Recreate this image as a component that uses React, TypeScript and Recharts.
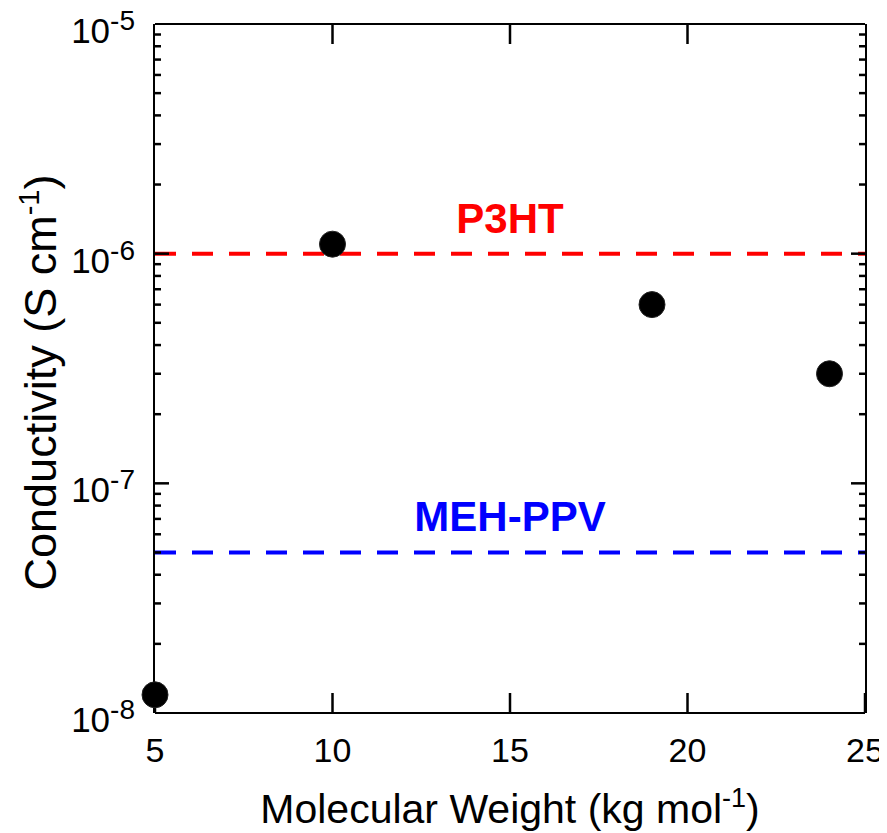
import { ScatterChart, Scatter, XAxis, YAxis, ReferenceLine } from 'recharts';

const molecularWeight = [5, 10, 19, 24];
const conductivity = [1.2e-8, 1.1e-6, 6.0e-7, 3.0e-7];

const xTicks = [5, 10, 15, 20, 25];
const xInnerTicks = [10, 15, 20];
const yTicks = [1e-8, 1e-7, 1e-6, 1e-5];
const yTickExponents = ['-8', '-7', '-6', '-5'];
const yInnerMajorTicks = [1e-7, 1e-6];
const yMinorTicks = [
  2e-8, 3e-8, 4e-8, 5e-8, 6e-8, 7e-8, 8e-8, 9e-8,
  2e-7, 3e-7, 4e-7, 5e-7, 6e-7, 7e-7, 8e-7, 9e-7,
  2e-6, 3e-6, 4e-6, 5e-6, 6e-6, 7e-6, 8e-6, 9e-6,
];

const referenceNames = ['P3HT', 'MEH-PPV'];
const referenceValues = [1e-6, 5e-8];
const referenceColors = ['#ff0000', '#0000ff'];

const data = molecularWeight.map((mw, i) => ({ mw, sigma: conductivity[i] }));

const FONT = '"Liberation Sans", Arial, Helvetica, sans-serif';
const X_DOMAIN = [5, 25];
const Y_DOMAIN = [1e-8, 1e-5];

function YTick(props: any) {
  const { x, y, payload } = props;
  const i = yTicks.indexOf(payload.value);
  const exp = i >= 0 ? yTickExponents[i] : String(Math.round(Math.log10(payload.value)));
  return (
    <text x={x} y={y} dy={19} textAnchor="end" fontSize={35} fill="#000">
      <tspan>10</tspan>
      <tspan fontSize={28} dy={-13}>{exp}</tspan>
    </text>
  );
}

// the bottom axis draws its tick lines inward (tickSize -20), so the label
// position it hands us sits 20px above the axis line
function XTick(props: any) {
  const { x, y, payload } = props;
  return (
    <text x={x} y={y} dy={69} textAnchor="middle" fontSize={34} fill="#000">
      {payload.value}
    </text>
  );
}

function NoLabel() {
  return <g />;
}

function YTitle(props: any) {
  const vb = props.viewBox || { x: 47, y: 16, width: 98, height: 689 };
  const cx = vb.x + 1;
  const cy = vb.y + vb.height / 2 + 14;
  return (
    <text x={cx} y={cy} transform={`rotate(-90, ${cx}, ${cy})`} textAnchor="middle" fontSize={45} fill="#000">
      <tspan>Conductivity (S cm</tspan>
      <tspan fontSize={29} dy={-17}>-1</tspan>
      <tspan dy={17}>)</tspan>
    </text>
  );
}

function XTitle(props: any) {
  const vb = props.viewBox || { x: 147, y: 705, width: 710, height: 120 };
  const cx = vb.x + vb.width / 2;
  const cy = vb.y + 110;
  return (
    <text x={cx} y={cy} textAnchor="middle" fontSize={41} fill="#000">
      <tspan>Molecular Weight (kg mol</tspan>
      <tspan fontSize={27} dy={-16}>-1</tspan>
      <tspan dy={16}>)</tspan>
    </text>
  );
}

function Dot(props: any) {
  const { cx, cy } = props;
  return <circle cx={cx} cy={cy} r={13} fill="#000" stroke="#222" strokeWidth={1} />;
}

const axisLine = { stroke: '#000', strokeWidth: 2 };
const tickLine = { stroke: '#000', strokeWidth: 2.5 };

export default function App() {
  return (
    <div style={{ fontFamily: FONT }}>
      <ScatterChart width={879} height={825} margin={{ top: 15, right: 20, bottom: 0, left: 47 }}>
        <XAxis
          xAxisId="main"
          dataKey="mw"
          type="number"
          scale="linear"
          domain={X_DOMAIN}
          ticks={xTicks}
          interval={0}
          height={120}
          tickSize={-20}
          tickMargin={0}
          tickLine={tickLine}
          axisLine={axisLine}
          tick={<XTick />}
          label={(p: any) => <XTitle {...p} />}
        />
        <XAxis
          xAxisId="top"
          dataKey="mw"
          type="number"
          scale="linear"
          orientation="top"
          height={1}
          domain={X_DOMAIN}
          allowDataOverflow
          ticks={xInnerTicks}
          interval={0}
          tick={<NoLabel />}
          tickSize={-20}
          tickLine={tickLine}
          axisLine={axisLine}
        />
        {/* thin tick-only axes first, so they sit right against the plot edge */}
        <YAxis
          yAxisId="leftMinor"
          type="number"
          scale="log"
          domain={Y_DOMAIN}
          allowDataOverflow
          orientation="left"
          width={1}
          ticks={yMinorTicks}
          interval={0}
          tick={<NoLabel />}
          tickSize={-7}
          tickLine={tickLine}
          axisLine={axisLine}
        />
        <YAxis
          yAxisId="leftMajor"
          type="number"
          scale="log"
          domain={Y_DOMAIN}
          allowDataOverflow
          orientation="left"
          width={1}
          ticks={yInnerMajorTicks}
          interval={0}
          tick={<NoLabel />}
          tickSize={-14}
          tickLine={tickLine}
          axisLine={false}
        />
        <YAxis
          yAxisId="main"
          dataKey="sigma"
          type="number"
          scale="log"
          domain={Y_DOMAIN}
          allowDataOverflow
          ticks={yTicks}
          interval={0}
          width={98}
          tickSize={0}
          tickMargin={18}
          tickLine={false}
          axisLine={false}
          tick={<YTick />}
          label={(p: any) => <YTitle {...p} />}
        />
        <YAxis
          yAxisId="rightMinor"
          type="number"
          scale="log"
          domain={Y_DOMAIN}
          allowDataOverflow
          orientation="right"
          width={1}
          ticks={yMinorTicks}
          interval={0}
          tick={<NoLabel />}
          tickSize={-7}
          tickLine={tickLine}
          axisLine={axisLine}
        />
        <YAxis
          yAxisId="rightMajor"
          type="number"
          scale="log"
          domain={Y_DOMAIN}
          allowDataOverflow
          orientation="right"
          width={1}
          ticks={yInnerMajorTicks}
          interval={0}
          tick={<NoLabel />}
          tickSize={-14}
          tickLine={tickLine}
          axisLine={false}
        />
        {referenceValues.map((v, i) => (
          <ReferenceLine
            key={referenceNames[i]}
            xAxisId="main"
            yAxisId="main"
            y={v}
            stroke={referenceColors[i]}
            strokeWidth={4}
            strokeDasharray="21 16"
            label={{
              value: referenceNames[i],
              position: 'top',
              offset: 21,
              fill: referenceColors[i],
              fontSize: 42,
              fontWeight: 'bold',
            }}
          />
        ))}
        <Scatter
          xAxisId="main"
          yAxisId="main"
          data={data}
          shape={<Dot />}
          isAnimationActive={false}
        />
      </ScatterChart>
    </div>
  );
}
